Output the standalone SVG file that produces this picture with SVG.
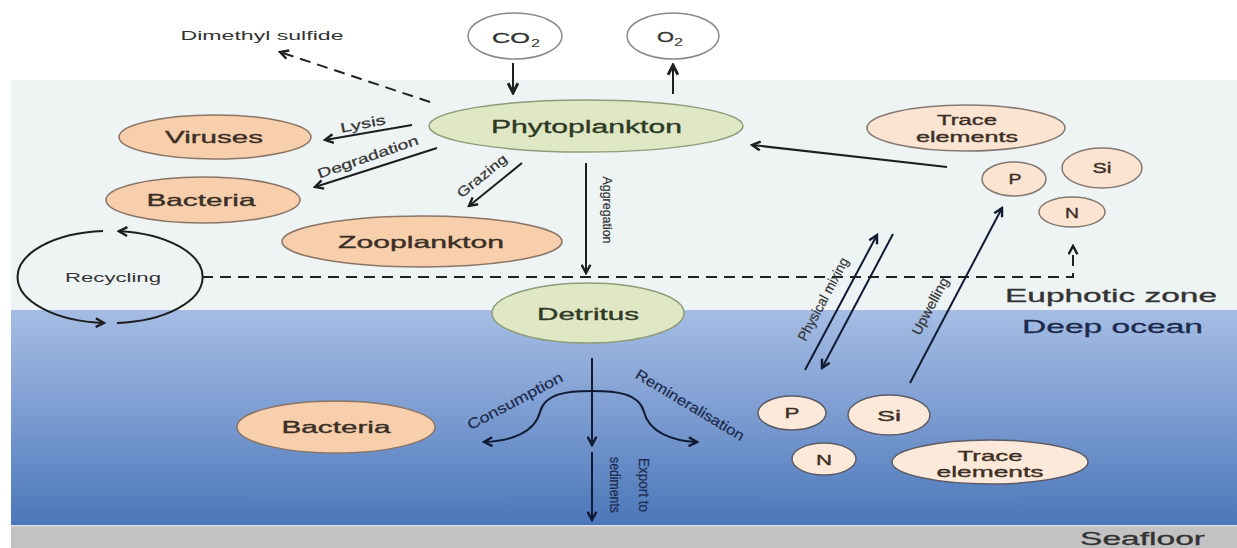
<svg xmlns="http://www.w3.org/2000/svg" width="1237" height="548" viewBox="0 0 1237 548">
<defs>
<linearGradient id="deep" x1="0" y1="0" x2="0" y2="1">
<stop offset="0" stop-color="#a5bde4"/>
<stop offset="0.5" stop-color="#7b9bd0"/>
<stop offset="1" stop-color="#4a77b9"/>
</linearGradient>
<marker id="ah" viewBox="0 0 10 10" refX="8.5" refY="5" markerWidth="11" markerHeight="11" markerUnits="userSpaceOnUse" orient="auto"><path d="M1,1 L8.5,5 L1,9" fill="none" stroke="#1e1e1e" stroke-width="2.2"/></marker>
<marker id="ahb" viewBox="0 0 12 12" refX="10" refY="6" markerWidth="13" markerHeight="13" markerUnits="userSpaceOnUse" orient="auto"><path d="M1,1.5 L10,6 L1,10.5" fill="none" stroke="#1e1e1e" stroke-width="2.6"/></marker>
<marker id="ahn" viewBox="0 0 10 10" refX="8.5" refY="5" markerWidth="11" markerHeight="11" markerUnits="userSpaceOnUse" orient="auto"><path d="M1,1 L8.5,5 L1,9" fill="none" stroke="#101a33" stroke-width="2.2"/></marker>
</defs>
<style>
text{font-family:"Liberation Sans",Arial,sans-serif;fill:#333}
.orange{fill:#f8cfad;stroke:#8a7565;stroke-width:1.5}
.peach{fill:#fbe5d2;stroke:#857870;stroke-width:1.5}
.peachd{fill:#fce9d9;stroke:#5c5c68;stroke-width:1.5}
.green{fill:#dfe7c4;stroke:#8e9c7a;stroke-width:1.5}
.gas{fill:#ffffff;stroke:#8a8a8a;stroke-width:1.5}
.nl{fill:#3b2f25;text-anchor:middle;stroke:#3b2f25;stroke-width:0.35}
.sm{text-anchor:middle;fill:#333;stroke:#333;stroke-width:0.2}
.deepl{fill:#1c2a4c;stroke:#1c2a4c}
.con{fill:none;stroke:#1e1e1e;stroke-width:2}
.cond{fill:none;stroke:#101a33;stroke-width:2}
.dash{fill:none;stroke:#222;stroke-width:2;stroke-dasharray:11 7}
</style>

<!-- background -->
<rect x="0" y="0" width="1237" height="548" fill="#ffffff"/>
<rect x="11" y="80" width="1226" height="230" fill="#eef3f4"/>
<rect x="11" y="310" width="1226" height="215" fill="url(#deep)"/>
<rect x="11" y="525" width="1226" height="23" fill="#c2c2c2"/>
<rect x="11" y="525" width="1226" height="1.5" fill="#d8dbe0"/>

<text x="1005" y="302" font-size="17.5" textLength="212" lengthAdjust="spacingAndGlyphs" stroke="#333" stroke-width="0.3">Euphotic zone</text>
<text x="1022" y="333" font-size="19" textLength="181" lengthAdjust="spacingAndGlyphs" class="deepl" stroke-width="0.3">Deep ocean</text>
<text x="1080" y="545" font-size="19" textLength="125" lengthAdjust="spacingAndGlyphs" stroke="#333" stroke-width="0.3">Seafloor</text>

<!-- connectors -->
<g id="connectors">
<path class="dash" d="M430,102 L280,52" marker-end="url(#ah)" stroke-dasharray="12 8"/>
<path class="con" d="M513,63 L513,93" stroke-width="3" marker-end="url(#ahb)"/>
<path class="con" d="M673,94 L673,65" stroke-width="3" marker-end="url(#ahb)"/>
<path class="con" d="M412,125 L325,140" marker-end="url(#ah)"/>
<path class="con" d="M437,148 L315,187" marker-end="url(#ah)"/>
<path class="con" d="M522,163 L469,206" marker-end="url(#ah)"/>
<path class="con" d="M586,163 L586,273" marker-end="url(#ah)"/>
<path class="con" d="M947,167 L752,145" marker-end="url(#ah)"/>
<path class="dash" d="M202,277 H1073 V246" marker-end="url(#ah)"/>
<path class="con" d="M117,322.9 A92,46 0 0 0 119,231.2" marker-end="url(#ah)"/>
<path class="con" d="M103,231.1 A92,46 0 0 0 104,322.9" marker-end="url(#ah)"/>
<path class="cond" d="M805,370 L877,235" marker-end="url(#ahn)"/>
<path class="cond" d="M893,234 L822,368" marker-end="url(#ahn)"/>
<path class="cond" d="M910,383 L1002,208" marker-end="url(#ahn)"/>
<path class="cond" d="M592,358 L592,445" marker-end="url(#ahn)"/>
<path class="cond" d="M592,452 L592,520" marker-end="url(#ahn)"/>
<path class="cond" d="M592,391 C568,391 545,393 540,412 C535,432 512,441 484,442" marker-end="url(#ahn)"/>
<path class="cond" d="M592,391 C616,391 639,393 644,412 C649,432 672,441 697,442" marker-end="url(#ahn)"/>

<text class="sm" font-size="13.5" transform="translate(363,124) rotate(-11)" y="4.5" textLength="46" lengthAdjust="spacingAndGlyphs">Lysis</text>
<text class="sm" font-size="13.5" transform="translate(368,157) rotate(-19)" y="4.5" textLength="106" lengthAdjust="spacingAndGlyphs">Degradation</text>
<text class="sm" font-size="13.5" transform="translate(482,176) rotate(-39)" y="4.5" textLength="60" lengthAdjust="spacingAndGlyphs">Grazing</text>
<text class="sm" font-size="13" transform="translate(607,210) rotate(90)" y="4.5" textLength="67" lengthAdjust="spacingAndGlyphs">Aggregation</text>
<text class="sm" font-size="14" transform="translate(823,299) rotate(-62)" y="5" textLength="92" lengthAdjust="spacingAndGlyphs">Physical mixing</text>
<text class="sm" font-size="14" transform="translate(930,306) rotate(-62)" y="5" textLength="63" lengthAdjust="spacingAndGlyphs">Upwelling</text>
<text class="sm deepl" font-size="14.5" transform="translate(515,401) rotate(-28)" y="5" textLength="106" lengthAdjust="spacingAndGlyphs">Consumption</text>
<text class="sm deepl" font-size="14.5" transform="translate(690,405) rotate(31)" y="5" textLength="124" lengthAdjust="spacingAndGlyphs">Remineralisation</text>
<text class="sm deepl" font-size="14" transform="translate(644,485) rotate(90)" y="5" textLength="54" lengthAdjust="spacingAndGlyphs">Export to</text>
<text class="sm deepl" font-size="14" transform="translate(615,485) rotate(90)" y="5" textLength="56" lengthAdjust="spacingAndGlyphs">sediments</text>
</g>

<g id="dimethyl-sulfide">
<text x="262" y="40" font-size="13.5" text-anchor="middle" fill="#444" textLength="163" lengthAdjust="spacingAndGlyphs">Dimethyl sulfide</text>
</g>

<g id="co2">
<ellipse class="gas" cx="515" cy="36" rx="47" ry="23"/>
<text x="492" y="43" font-size="14.5" textLength="38" lengthAdjust="spacingAndGlyphs" stroke="#333" stroke-width="0.3">CO</text>
<text x="531" y="47" font-size="10.5" textLength="9" lengthAdjust="spacingAndGlyphs">2</text>
</g>
<g id="o2">
<ellipse class="gas" cx="673" cy="36" rx="46" ry="23"/>
<text x="657" y="42" font-size="14.5" textLength="17" lengthAdjust="spacingAndGlyphs" stroke="#333" stroke-width="0.3">O</text>
<text x="674" y="46" font-size="10.5" textLength="9" lengthAdjust="spacingAndGlyphs">2</text>
</g>

<g id="phytoplankton">
<ellipse class="green" cx="586" cy="126" rx="157" ry="26"/>
<text class="nl" x="586.5" y="133" font-size="19" style="fill:#2f3a25;stroke:#2f3a25" textLength="191" lengthAdjust="spacingAndGlyphs">Phytoplankton</text>
</g>

<g id="viruses">
<ellipse class="orange" cx="215" cy="137" rx="96" ry="22"/>
<text class="nl" x="214" y="143" font-size="16.5" textLength="98" lengthAdjust="spacingAndGlyphs">Viruses</text>
</g>

<g id="bacteria-upper">
<ellipse class="orange" cx="203" cy="200" rx="97" ry="23"/>
<text class="nl" x="201" y="206" font-size="16.5" textLength="109" lengthAdjust="spacingAndGlyphs">Bacteria</text>
</g>

<g id="zooplankton">
<ellipse class="orange" cx="422" cy="241.5" rx="140" ry="25.5"/>
<text class="nl" x="421" y="248" font-size="16.5" textLength="166" lengthAdjust="spacingAndGlyphs">Zooplankton</text>
</g>

<g id="recycling">
<text x="113" y="282" font-size="13.5" text-anchor="middle" fill="#444" textLength="96" lengthAdjust="spacingAndGlyphs">Recycling</text>
</g>

<g id="detritus">
<ellipse class="green" cx="588" cy="313" rx="96" ry="30"/>
<text class="nl" x="588" y="320" font-size="16.5" style="fill:#2f3a25;stroke:#2f3a25" textLength="102" lengthAdjust="spacingAndGlyphs">Detritus</text>
</g>

<g id="trace-upper">
<ellipse class="peach" cx="966" cy="128" rx="99" ry="23"/>
<text class="nl" x="967" y="125" font-size="14" textLength="60" lengthAdjust="spacingAndGlyphs">Trace</text>
<text class="nl" x="967" y="142" font-size="14" textLength="102" lengthAdjust="spacingAndGlyphs">elements</text>
</g>
<g id="p-upper">
<ellipse class="peach" cx="1014" cy="179" rx="32" ry="17"/>
<text class="nl" x="1015" y="184" font-size="14" textLength="13" lengthAdjust="spacingAndGlyphs">P</text>
</g>
<g id="si-upper">
<ellipse class="peach" cx="1102" cy="168" rx="40" ry="20"/>
<text class="nl" x="1102" y="173" font-size="14" textLength="19" lengthAdjust="spacingAndGlyphs">Si</text>
</g>
<g id="n-upper">
<ellipse class="peach" cx="1072" cy="212" rx="33" ry="15"/>
<text class="nl" x="1072" y="218" font-size="14" textLength="14" lengthAdjust="spacingAndGlyphs">N</text>
</g>

<g id="bacteria-lower">
<ellipse class="orange" cx="336" cy="427" rx="99" ry="26" stroke="#5c5c68"/>
<text class="nl" x="336" y="433" font-size="16.5" textLength="109" lengthAdjust="spacingAndGlyphs">Bacteria</text>
</g>
<g id="p-lower">
<ellipse class="peachd" cx="792" cy="413" rx="34" ry="17"/>
<text class="nl" x="792" y="418" font-size="14" textLength="15" lengthAdjust="spacingAndGlyphs">P</text>
</g>
<g id="si-lower">
<ellipse class="peachd" cx="889" cy="415" rx="41" ry="20"/>
<text class="nl" x="889" y="421" font-size="14" textLength="24" lengthAdjust="spacingAndGlyphs">Si</text>
</g>
<g id="n-lower">
<ellipse class="peachd" cx="824" cy="459" rx="32" ry="16"/>
<text class="nl" x="824" y="465" font-size="14" textLength="16" lengthAdjust="spacingAndGlyphs">N</text>
</g>
<g id="trace-lower">
<ellipse class="peachd" cx="990" cy="462" rx="98" ry="22"/>
<text class="nl" x="990" y="461" font-size="15" textLength="65" lengthAdjust="spacingAndGlyphs">Trace</text>
<text class="nl" x="990" y="477" font-size="15" textLength="107" lengthAdjust="spacingAndGlyphs">elements</text>
</g>
</svg>
